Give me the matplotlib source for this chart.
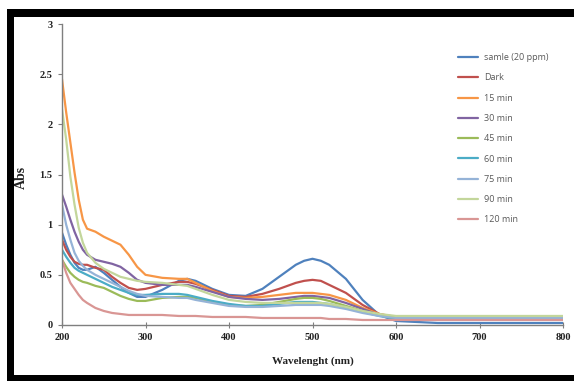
import matplotlib
matplotlib.use("Agg")
import matplotlib.pyplot as plt
from matplotlib.patches import Rectangle

wavelength = [200, 205, 210, 215, 220, 225, 230, 240, 250, 260, 270, 280, 290, 300, 320, 340, 350,
              360, 380, 400, 420, 440, 460, 480, 490, 500, 510, 520, 540, 560, 580, 600, 650, 700, 750, 800]

sample = [0.92, 0.80, 0.70, 0.62, 0.57, 0.55, 0.55, 0.58, 0.52, 0.45, 0.38, 0.32, 0.28, 0.28, 0.35, 0.44, 0.46,
          0.44, 0.36, 0.30, 0.29, 0.36, 0.48, 0.60, 0.64, 0.66, 0.64, 0.60, 0.46, 0.25, 0.10, 0.04, 0.02, 0.02, 0.02, 0.02]
dark = [0.85, 0.75, 0.68, 0.63, 0.61, 0.60, 0.60, 0.57, 0.55, 0.48, 0.42, 0.37, 0.35, 0.36, 0.40, 0.43, 0.43,
        0.41, 0.35, 0.29, 0.28, 0.31, 0.36, 0.42, 0.44, 0.45, 0.44, 0.40, 0.32, 0.20, 0.11, 0.07, 0.06, 0.06, 0.06, 0.06]
min15 = [2.45, 2.12, 1.82, 1.52, 1.25, 1.05, 0.96, 0.93, 0.88, 0.84, 0.80, 0.70, 0.58, 0.50, 0.47, 0.46, 0.46,
         0.42, 0.34, 0.28, 0.27, 0.28, 0.30, 0.32, 0.32, 0.32, 0.31, 0.30, 0.25, 0.17, 0.11, 0.08, 0.08, 0.08, 0.08, 0.08]
min30 = [1.30, 1.18, 1.05, 0.93, 0.83, 0.75, 0.70, 0.65, 0.63, 0.61, 0.58, 0.52, 0.45, 0.42, 0.40, 0.40, 0.40,
         0.38, 0.33, 0.28, 0.26, 0.25, 0.26, 0.28, 0.29, 0.29, 0.28, 0.27, 0.22, 0.16, 0.10, 0.07, 0.07, 0.07, 0.07, 0.07]
min45 = [0.65, 0.58, 0.52, 0.48, 0.45, 0.43, 0.42, 0.39, 0.37, 0.33, 0.29, 0.26, 0.24, 0.24, 0.27, 0.28, 0.28,
         0.27, 0.23, 0.20, 0.19, 0.20, 0.23, 0.26, 0.27, 0.27, 0.26, 0.24, 0.19, 0.14, 0.10, 0.08, 0.08, 0.08, 0.08, 0.08]
min60 = [0.75, 0.68, 0.62, 0.57, 0.54, 0.52, 0.50, 0.46, 0.42, 0.38, 0.35, 0.32, 0.30, 0.30, 0.31, 0.31, 0.30,
         0.28, 0.24, 0.21, 0.19, 0.19, 0.21, 0.23, 0.23, 0.23, 0.22, 0.21, 0.17, 0.13, 0.09, 0.06, 0.06, 0.06, 0.06, 0.06]
min75 = [1.20, 1.00, 0.85, 0.72, 0.64, 0.59, 0.55, 0.50, 0.46, 0.42, 0.38, 0.34, 0.31, 0.29, 0.28, 0.27, 0.27,
         0.25, 0.22, 0.19, 0.18, 0.18, 0.19, 0.20, 0.20, 0.20, 0.20, 0.19, 0.16, 0.12, 0.09, 0.07, 0.07, 0.07, 0.07, 0.07]
min90 = [2.15, 1.85, 1.48, 1.20, 0.97, 0.82, 0.72, 0.62, 0.56, 0.52, 0.48, 0.46, 0.44, 0.43, 0.42, 0.40, 0.39,
         0.36, 0.30, 0.25, 0.23, 0.22, 0.22, 0.22, 0.22, 0.22, 0.22, 0.21, 0.18, 0.14, 0.11, 0.09, 0.09, 0.09, 0.09, 0.09]
min120 = [0.65, 0.52, 0.42, 0.36, 0.30, 0.25, 0.22, 0.17, 0.14, 0.12, 0.11, 0.10, 0.10, 0.10, 0.10, 0.09, 0.09,
          0.09, 0.08, 0.08, 0.08, 0.07, 0.07, 0.07, 0.07, 0.07, 0.07, 0.06, 0.06, 0.05, 0.05, 0.05, 0.05, 0.05, 0.05, 0.05]

labels = ["samle (20 ppm)", "Dark", "15 min", "30 min", "45 min", "60 min", "75 min", "90 min", "120 min"]
series = [sample, dark, min15, min30, min45, min60, min75, min90, min120]
colors = ["#4F81BD", "#C0504D", "#F79646", "#8064A2", "#9BBB59", "#4BACC6", "#95B3D7", "#C3D69B", "#D99694"]

x_ticks = [200, 300, 400, 500, 600, 700, 800]
y_ticks = [0, 0.5, 1, 1.5, 2, 2.5, 3]
y_ticklabels = ["0", "0.5", "1", "1.5", "2", "2.5", "3"]

fig = plt.figure(figsize=(5.74, 3.81), dpi=100)
fig.patch.set_facecolor("white")

# outer black frame
fig.add_artist(Rectangle((7 / 574, 0), 1.1, (381 - 9) / 381, transform=fig.transFigure,
                         facecolor="black", edgecolor="none", zorder=-3))
fig.add_artist(Rectangle((14 / 574, 6 / 381), 1.1, (381 - 17 - 6) / 381, transform=fig.transFigure,
                         facecolor="white", edgecolor="none", zorder=-2))

ax = fig.add_axes([62 / 574, 56 / 381, 501 / 574, 301 / 381])
ax.set_zorder(5)
ax.set_facecolor("none")

for ys, c, lab in zip(series, colors, labels):
    ax.plot(wavelength, ys, color=c, lw=1.6, label=lab, solid_capstyle="round", solid_joinstyle="round")

ax.set_xlim(200, 800)
ax.set_ylim(0, 3)
ax.set_xticks(x_ticks)
ax.set_yticks(y_ticks)
ax.set_yticklabels(y_ticklabels)
for s in ["top", "right"]:
    ax.spines[s].set_visible(False)
for s in ["left", "bottom"]:
    ax.spines[s].set_color("#7f7f7f")
    ax.spines[s].set_linewidth(1.0)
ax.tick_params(axis="both", colors="#7f7f7f", length=3, width=0.8, labelcolor="#222222",
               labelsize=7.5, pad=4)
ax.tick_params(axis="x", direction="inout", length=4)
for t in ax.get_xticklabels() + ax.get_yticklabels():
    t.set_fontfamily("Liberation Serif")
    t.set_fontweight("bold")

ax.set_xlabel("Wavelenght (nm)", fontfamily="Liberation Serif", fontweight="bold", fontsize=8,
              color="#222222", labelpad=10)
ax.set_ylabel("Abs", fontfamily="Liberation Serif", fontweight="bold", fontsize=10,
              color="#222222")
ax.yaxis.set_label_coords(-0.068, 0.49)

leg = ax.legend(loc="upper left", bbox_to_anchor=(0.775, 0.93), frameon=False,
                prop={"family": "Open Sans", "size": 6.5}, handlelength=2.2, labelspacing=1.25,
                handletextpad=0.6)
for t in leg.get_texts():
    t.set_color("#595959")

fig.savefig("out.png", dpi=100)
